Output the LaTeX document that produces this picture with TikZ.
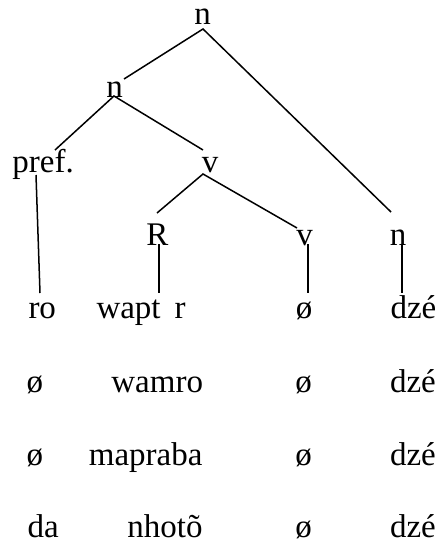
\documentclass[tikz,border=0pt]{standalone}
\usepackage{fontspec}
\setmainfont{Liberation Serif}
\begin{document}
\begin{tikzpicture}[x=1pt,y=-1pt,
  lbl/.style={inner sep=0pt,outer sep=0pt,font=\fontsize{33}{40}\selectfont},
  branch/.style={line width=1.5pt}]
\useasboundingbox (0,0) rectangle (438,546);
% tree labels
\node[lbl,anchor=base] (ntop) at (202.5,24) {n};
\node[lbl,anchor=base] (nmid) at (114.5,97) {n};
\node[lbl,anchor=base west] (pref) at (12.5,172) {pref.};
\node[lbl,anchor=base] (vup) at (210,172) {v};
\node[lbl,anchor=base] (R) at (157.5,245) {R};
\node[lbl,anchor=base] (vlow) at (304.5,245) {v};
\node[lbl,anchor=base] (nlow) at (398,245) {n};
% row 1
\node[lbl,anchor=base west] (ro) at (28.5,318) {ro};
\node[lbl,anchor=base west] (wapt) at (96.5,318) {wapt\hspace{14pt}r};
\node[lbl,anchor=base] (z1) at (304,318) {ø};
\node[lbl,anchor=base west] (d1) at (390.5,318) {dzé};
% row 2
\node[lbl,anchor=base] (a2) at (35,392.5) {ø};
\node[lbl,anchor=base east] (wamro) at (203,392.5) {wamro};
\node[lbl,anchor=base] (z2) at (303.5,392.5) {ø};
\node[lbl,anchor=base west] (d2) at (390,392.5) {dzé};
% row 3
\node[lbl,anchor=base] (a3) at (35,465) {ø};
\node[lbl,anchor=base east] (mapraba) at (202.5,465) {mapraba};
\node[lbl,anchor=base] (z3) at (303.5,465) {ø};
\node[lbl,anchor=base west] (d3) at (390,465) {dzé};
% row 4
\node[lbl,anchor=base west] (da) at (27.5,537) {da};
\node[lbl,anchor=base east] (nhoto) at (202.5,537) {nhotõ};
\node[lbl,anchor=base] (z4) at (303.5,537) {ø};
\node[lbl,anchor=base west] (d4) at (390,537) {dzé};
% branch points
\coordinate (ntopB) at (203,29);
\coordinate (nmidT) at (124,79);
\coordinate (nlowT) at (391,212);
\coordinate (nmidB) at (114,96);
\coordinate (prefT) at (55,150);
\coordinate (vupT) at (203,150);
\coordinate (prefB) at (36,175);
\coordinate (roT) at (40,293);
\coordinate (vupB) at (203,174);
\coordinate (RT) at (157,213);
\coordinate (vlowT) at (297,228);
\coordinate (RB) at (159,244);
\coordinate (waptT) at (159,293);
\coordinate (vlowB) at (308,244);
\coordinate (z1T) at (308,293);
\coordinate (nlowB) at (402,244);
\coordinate (d1T) at (402,293);
\draw[branch] (nmidT) -- (ntopB) -- (nlowT);
\draw[branch] (prefT) -- (nmidB) -- (vupT);
\draw[branch] (prefB) -- (roT);
\draw[branch] (RT) -- (vupB) -- (vlowT);
\draw[branch] (RB) -- (waptT);
\draw[branch] (vlowB) -- (z1T);
\draw[branch] (nlowB) -- (d1T);
\end{tikzpicture}
\end{document}
